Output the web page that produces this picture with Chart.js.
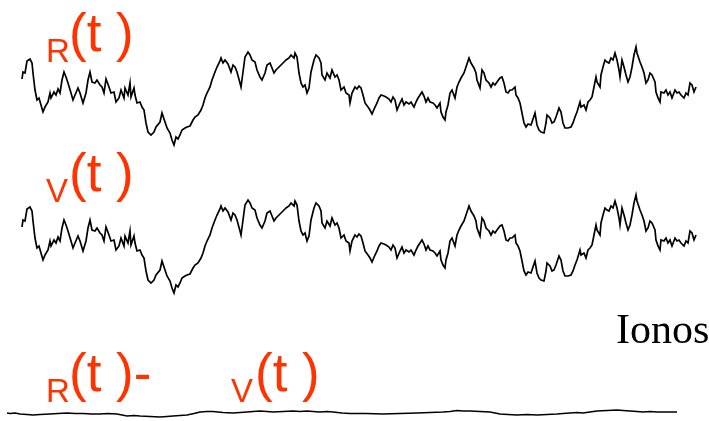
<!DOCTYPE html>
<html>
<head>
<meta charset="utf-8">
<script src="https://cdn.jsdelivr.net/npm/chart.js@4/dist/chart.umd.min.js"></script>
<style>
  html, body { margin: 0; padding: 0; background: #ffffff; }
  canvas { display: block; }
</style>
</head>
<body>
<canvas id="chart" width="709" height="421"></canvas>
<script>
// Sample times (arbitrary units) shared by the two receiver phase records
const sampleTimes = [
  22,23,25,27,30,32,33,35,37,39,41,43,45,48,50,51,54,56,58,60,62,64,66,68,71,73,75,78,80,83,86,88,90,92,95,97,100,102,104,106,
  109,111,114,116,119,121,124,125,128,130,131,134,135,137,140,142,144,146,148,151,154,156,160,162,165,167,170,172,174,176,178,180,182,185,187,
  190,193,195,198,201,203,205,207,210,212,215,217,220,221,223,225,228,231,233,235,237,240,241,243,245,248,250,252,255,257,260,262,265,267,270,
  272,274,276,279,281,284,286,289,291,294,295,297,299,301,303,305,307,309,311,314,316,319,321,322,325,327,330,332,335,337,339,341,344,346,349,
  350,352,355,357,359,361,363,365,368,370,372,375,377,379,381,384,386,389,391,393,395,397,400,402,404,406,409,411,414,416,418,420,422,424,426,
  428,430,433,435,437,440,441,443,445,446,448,450,452,455,457,459,461,464,466,469,471,474,476,477,480,482,484,486,489,491,493,495,497,500,502,
  504,506,508,510,512,515,516,518,520,522,524,526,528,531,533,535,537,539,541,544,546,547,550,552,554,556,559,561,563,565,568,571,573,575,577,
  580,581,584,586,588,590,592,594,596,597,600,601,603,605,607,609,611,613,615,617,619,620,622,624,626,628,630,632,634,636,637,640,642,644,646,
  648,650,652,655,656,658,660,661,664,666,668,670,672,675,677,679,681,684,686,688,690,692,694,696
];

// Phase at receiver R
const phaseR = [
  21,28,27,39,41,37,27,10,0,2,-5,-12,-7,-2,7,2,8,5,11,7,20,28,23,17,7,0,5,12,7,-3,7,20,28,18,17,20,15,13,7,21,
  13,7,8,-2,2,10,2,12,5,17,3,12,5,-3,-2,-7,-10,-23,-32,-35,-32,-27,-22,-13,-22,-28,-33,-40,-45,-37,-39,-35,-30,-28,-27,
  -26,-20,-17,-15,-10,-5,2,7,13,20,28,33,39,42,37,40,36,28,35,33,28,17,13,28,43,48,45,40,38,30,23,20,27,35,37,
  32,27,30,33,35,38,40,42,45,42,47,43,27,17,13,15,7,12,28,40,45,42,37,25,20,27,22,30,23,25,20,10,13,7,5,
  -3,7,13,11,14,12,5,-3,-7,-10,-14,-7,-3,2,5,4,3,1,-2,3,0,-10,-3,1,-5,-2,-4,-2,-7,-2,2,5,8,4,-2,
  2,-2,-3,-5,-8,-3,-12,-17,-20,-12,-5,7,10,2,13,18,22,27,33,42,37,32,27,20,12,30,27,20,17,13,17,15,18,22,23,
  17,8,7,10,10,13,5,2,-3,-13,-23,-27,-24,-25,-19,-13,-25,-30,-32,-33,-23,-15,-18,-23,-22,-17,-8,-12,-23,-28,-28,-27,-23,-17,-12,
  -2,-7,-5,-10,-2,0,3,13,23,18,13,25,33,40,38,37,42,40,47,40,30,23,40,33,25,18,23,33,45,53,47,38,33,27,17,
  20,27,25,18,8,2,-2,8,7,10,5,8,2,10,7,8,5,2,7,5,17,15,8,13
];

// Phase at receiver V
const phaseV = [
  21,28,27,39,41,37,27,10,0,2,-5,-12,-7,-2,7,2,8,5,11,7,20,28,23,17,7,0,5,12,7,-3,7,20,28,18,17,20,15,13,7,21,
  13,7,8,-2,2,10,2,12,5,17,3,12,5,-3,-2,-7,-10,-23,-32,-35,-32,-27,-22,-13,-22,-28,-33,-40,-45,-37,-39,-35,-30,-28,-27,
  -26,-20,-17,-15,-10,-5,2,7,13,20,28,33,39,42,37,40,36,28,35,33,28,17,13,28,43,48,45,40,38,30,23,20,27,35,37,
  32,27,30,33,35,38,40,42,45,42,47,43,27,17,13,15,7,12,28,40,45,42,37,25,20,27,22,30,23,25,20,10,13,7,5,
  -3,7,13,11,14,12,5,-3,-7,-10,-14,-7,-3,2,5,4,3,1,-2,3,0,-10,-3,1,-5,-2,-4,-2,-7,-2,2,5,8,4,-2,
  2,-2,-3,-5,-8,-3,-12,-17,-20,-12,-5,7,10,2,13,18,22,27,33,42,37,32,27,20,12,30,27,20,17,13,17,15,18,22,23,
  17,8,7,10,10,13,5,2,-3,-13,-23,-27,-24,-25,-19,-13,-25,-30,-32,-33,-23,-15,-18,-23,-22,-17,-8,-12,-23,-28,-28,-27,-23,-17,-12,
  -2,-7,-5,-10,-2,0,3,13,23,18,13,25,33,40,38,37,42,40,47,40,30,23,40,33,25,18,23,33,45,53,47,38,33,27,17,
  20,27,25,18,8,2,-2,8,7,10,5,8,2,10,7,8,5,2,7,5,17,15,8,13
];

// Difference record R - V
const diffTimes = [
  7,10,15,20,27,33,40,50,58,67,75,83,92,100,108,117,122,127,134,140,150,160,167,173,180,187,194,200,207,213,
  223,233,240,247,253,260,267,273,283,293,300,307,313,320,327,333,342,350,366,383,400,417,430,443,450,457,
  463,470,480,490,495,500,508,517,527,537,547,557,563,570,577,583,590,597,607,617,623,630,637,643,650,657,667,677
];
const diffPhase = [
  0,-0.5,0,-1,-1.5,-2,-1.5,-1,-0.5,0,-0.5,-0.5,-1,-1,-0.5,-1,-2,-3,-2.5,-3,-3.5,-4,-3.5,-3,-2.5,-2,-0.5,1,1.5,1.5,
  0.5,0,0.5,1,1.5,2,1.5,1,1.5,2,1.5,2,1.5,1,1.5,1,0,-0.5,-0.5,-1,-0.5,0,0.5,1,1.5,2.5,
  2,2,1.5,1,0,-1,-1.5,-2,-1.5,-2,-1.5,-1,-0.5,0,0.5,0,1,2,2.5,3,2.5,2,1.5,1,1.5,1,1,1
];

// Trace baselines on the page (phase zero of each record)
const BASE_R = 100, BASE_V = 248, BASE_DIFF = 413;

function trace(times, values, base) {
  return times.map((t, i) => ({ x: t, y: base - values[i] }));
}

const RED = '#ff3300';

// Annotation text: labels above each record and the side caption
const textPlugin = {
  id: 'captions',
  afterDraw(chart) {
    const ctx = chart.ctx;
    ctx.save();
    ctx.textBaseline = 'alphabetic';
    ctx.textAlign = 'left';
    const runs = [
      // first record
      { s: 'R', x: 46, y: 62, size: 33 },
      { s: '(t )', x: 69, y: 51, size: 53 },
      // second record
      { s: 'V', x: 46, y: 202, size: 33 },
      { s: '(t )', x: 69, y: 191, size: 53 },
      // difference record
      { s: 'R', x: 46, y: 402, size: 33 },
      { s: '(t )-', x: 69, y: 391, size: 53 },
      { s: 'V', x: 231, y: 402, size: 33 },
      { s: '(t )', x: 255, y: 391, size: 53 }
    ];
    ctx.fillStyle = RED;
    for (const r of runs) {
      ctx.font = r.size + 'px "Liberation Sans", Arial, sans-serif';
      ctx.fillText(r.s, r.x, r.y);
    }
    ctx.fillStyle = '#000000';
    ctx.font = '42px "Liberation Serif", "Times New Roman", serif';
    ctx.fillText('Ionos', 616, 343);
    ctx.restore();
  }
};

new Chart(document.getElementById('chart'), {
  type: 'line',
  data: {
    datasets: [
      { label: 'R(t)', data: trace(sampleTimes, phaseR, BASE_R) },
      { label: 'V(t)', data: trace(sampleTimes, phaseV, BASE_V) },
      { label: 'R(t) - V(t)', data: trace(diffTimes, diffPhase, BASE_DIFF) }
    ]
  },
  options: {
    responsive: false,
    animation: false,
    layout: { padding: 0 },
    elements: {
      point: { radius: 0 },
      line: { borderColor: '#000000', borderWidth: 1.7, tension: 0, fill: false }
    },
    scales: {
      x: { type: 'linear', min: 0, max: 709, display: false },
      y: { type: 'linear', min: 0, max: 421, reverse: true, display: false }
    },
    plugins: {
      legend: { display: false },
      tooltip: { enabled: false }
    }
  },
  plugins: [textPlugin]
});
</script>
</body>
</html>
